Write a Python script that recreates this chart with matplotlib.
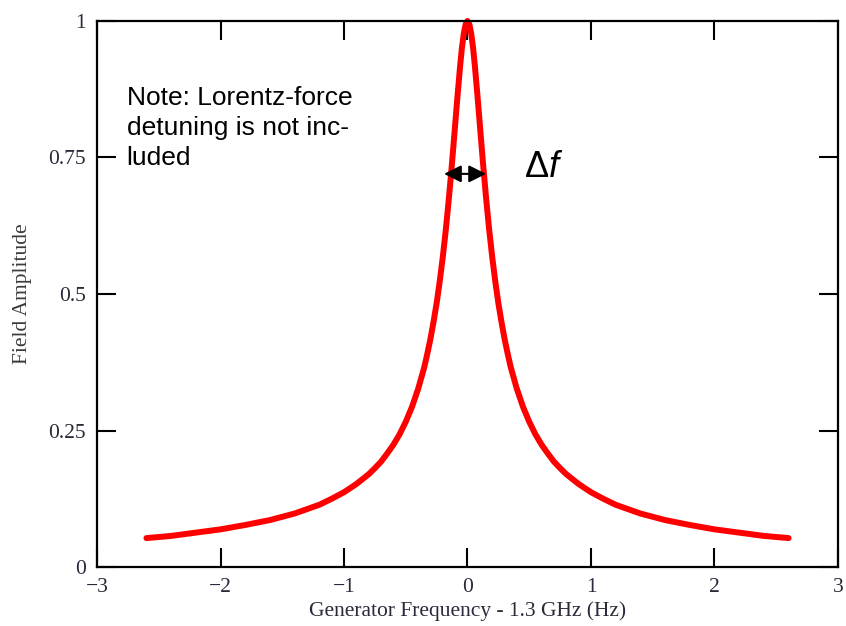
import matplotlib.pyplot as plt

# field amplitude vs generator detuning
freq = [-2.6, -2.4, -2.2, -2.0, -1.8, -1.6, -1.4, -1.2, -1.1, -1.0, -0.9,
        -0.8, -0.75, -0.7, -0.65, -0.6, -0.55, -0.5, -0.45, -0.4, -0.35,
        -0.325, -0.3, -0.275, -0.25, -0.225, -0.2, -0.175, -0.15, -0.125,
        -0.1, -0.08, -0.06, -0.045, -0.03, -0.015,
        0.0,
        0.015, 0.03, 0.045, 0.06, 0.08, 0.1, 0.125, 0.15, 0.175, 0.2,
        0.225, 0.25, 0.275, 0.3, 0.325, 0.35, 0.4, 0.45, 0.5, 0.55, 0.6,
        0.65, 0.7, 0.75, 0.8, 0.9, 1.0, 1.1, 1.2, 1.4, 1.6, 1.8, 2.0, 2.2,
        2.4, 2.6]
amp = [0.053, 0.057, 0.063, 0.069, 0.077, 0.086, 0.098, 0.114, 0.125, 0.137, 0.152,
       0.170, 0.181, 0.193, 0.208, 0.224, 0.243, 0.266, 0.293, 0.326, 0.366,
       0.391, 0.418, 0.449, 0.483, 0.523, 0.568, 0.619, 0.677, 0.741,
       0.810, 0.865, 0.917, 0.951, 0.977, 0.994,
       1.0,
       0.994, 0.977, 0.951, 0.917, 0.865, 0.810, 0.741, 0.677, 0.619, 0.568,
       0.523, 0.483, 0.449, 0.418, 0.391, 0.366, 0.326, 0.293, 0.266, 0.243, 0.224,
       0.208, 0.193, 0.181, 0.170, 0.152, 0.137, 0.125, 0.114, 0.098, 0.086, 0.077,
       0.069, 0.063, 0.057, 0.053]

x_ticks = [-3, -2, -1, 0, 1, 2, 3]
x_labels = ["\u22123", "\u22122", "\u22121", "0", "1", "2", "3"]
y_ticks = [0, 0.25, 0.5, 0.75, 1]
y_labels = ["0", "0.25", "0.5", "0.75", "1"]

plt.rcParams['mathtext.fontset'] = 'custom'
plt.rcParams['mathtext.rm'] = 'Liberation Sans'
plt.rcParams['mathtext.it'] = 'Liberation Sans:italic'

fig = plt.figure(figsize=(8.46, 6.26), dpi=100)
ax = fig.add_axes([0.1147, 0.0942, 0.8758, 0.8723])

ax.plot(freq, amp, color="#ff0000", lw=4.3, solid_capstyle="round",
        solid_joinstyle="round", clip_on=False)

ax.set_xlim(-3, 3)
ax.set_ylim(0, 1)
ax.set_xticks(x_ticks)
ax.set_xticklabels(x_labels)
ax.set_yticks(y_ticks)
ax.set_yticklabels(y_labels)

serif = "Liberation Serif"
txt_col = "#2a2a3a"
for lab in ax.get_xticklabels() + ax.get_yticklabels():
    lab.set_fontfamily(serif)
    lab.set_fontsize(15.5)
    lab.set_color(txt_col)

ax.tick_params(direction="in", length=14, width=1.5, top=True, right=True, pad=8)
for s in ax.spines.values():
    s.set_linewidth(1.6)

ax.set_xlabel("Generator Frequency - 1.3 GHz (Hz)", family=serif, fontsize=15.5,
              color=txt_col, labelpad=3)
ax.set_ylabel("Field Amplitude", family=serif, fontsize=15.5, color="#3a3a3a")
ax.yaxis.set_label_coords(-0.088, 0.5)

# baseline here is the last line's baseline
ax.text(-2.76, 0.736, "Note: Lorentz-force\ndetuning is not inc-\nluded",
        fontsize=19, family="Liberation Sans", va="baseline", ha="left",
        linespacing=1.33)

# bandwidth arrow
ax.annotate("", xy=(-0.19, 0.72), xytext=(0.15, 0.72),
            arrowprops=dict(arrowstyle="<|-|>", color="black", lw=1.5,
                            mutation_scale=26, shrinkA=0, shrinkB=0))
ax.text(0.46, 0.714, r"$\Delta f$", fontsize=26, va="baseline", ha="left")

fig.savefig("out.png", dpi=100)
